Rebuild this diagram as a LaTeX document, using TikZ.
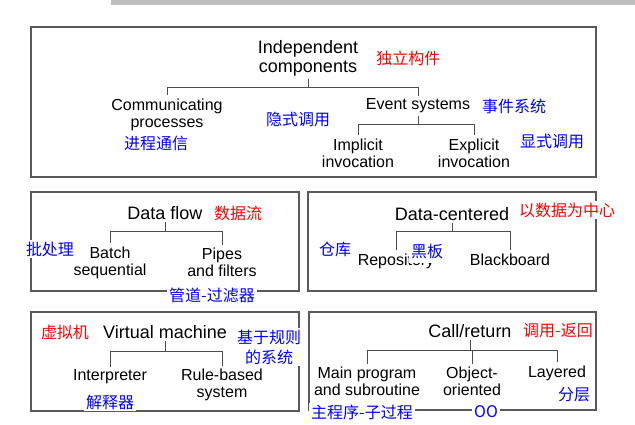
\documentclass[tikz,border=0pt]{standalone}
\usepackage{fontspec}
\setmainfont{Liberation Sans}
\newfontfamily\cjk{Noto Sans CJK SC}
\usetikzlibrary{positioning}
\tikzstyle{panel}     = [draw=black!65, line width=1.2pt]
\tikzstyle{tree}      = [draw=black!70, line width=1pt]
\tikzstyle{headtext}  = [align=center, inner sep=2pt,
                         font=\fontsize{18}{19.5}\selectfont]
\tikzstyle{leaftext}  = [align=center, inner sep=3pt,
                         font=\fontsize{16}{17}\selectfont]
\tikzstyle{redlabel}  = [text=red, fill=white, inner sep=2pt,
                         font=\cjk\fontsize{16}{20}\selectfont]
\tikzstyle{bluelabel} = [text=blue, fill=white, inner sep=2pt, align=center,
                         font=\cjk\fontsize{16}{20}\selectfont]

\begin{document}
\begin{tikzpicture}[x=1pt, y=1pt]

  \useasboundingbox (0,0) rectangle (635,424);
  \fill[black!25] (111,419) rectangle (635,424);

  % the five panels
  \draw[panel] (31,247) rectangle (596,397);
  \draw[panel] (31,133) rectangle (299,232);
  \draw[panel] (308,133) rectangle (596,232);
  \draw[panel] (31,13) rectangle (299,112);
  \draw[panel] (309,14) rectangle (596,112);

  % independent components
  \node[headtext] (indep) at (308,365.5) {Independent\\components};
  \node[redlabel, right=14pt of indep] (indepcn) {独立构件};
  \node[leaftext] (comm) at (167,309.5) {Communicating\\processes};
  \node[bluelabel] (commcn) at (156,281) {进程通信};
  \node[bluelabel] (implcn) at (298,305) {隐式调用};
  \node[leaftext] (event) at (418,318) {Event systems};
  \node[bluelabel] (eventcn) at (514,318) {事件系统};
  \node[leaftext] (impl) at (358,271) {Implicit\\invocation};
  \node[leaftext] (expl) at (474,271) {Explicit\\invocation};
  \node[bluelabel] (explcn) at (552,283) {显式调用};

  \draw[tree] (indep.south) -- ++(0,-9) -| (comm.north);
  \draw[tree] (indep.south) -- ++(0,-9) -| (event.north);
  \draw[tree] (event.south) -- ++(0,-8) -| (impl.north);
  \draw[tree] (event.south) -- ++(0,-8) -| (expl.north);

  % data flow
  \node[headtext] (dflow) at (165,211) {Data flow};
  \node[redlabel] (dflowcn) at (238,211) {数据流};
  \node[leaftext] (batch) at (110,161.5) {Batch\\sequential};
  \node[leaftext] (pipes) at (222,161.5) {Pipes\\and filters};
  \node[bluelabel] (batchcn) at (50,175) {批处理};
  \node[bluelabel] (pipescn) at (212,129) {管道-过滤器};

  \draw[tree] (dflow.south) -- ++(0,-10) -| (batch.north);
  \draw[tree] (dflow.south) -- ++(0,-10) -| (pipes.north);

  % data-centered
  \node[headtext] (dcent) at (452,210) {Data-centered};
  \node[redlabel] (dcentcn) at (567,214) {以数据为中心};
  \node[leaftext, anchor=base] (repo) at (396,159) {Repository};
  \node[leaftext, anchor=base] (bboard) at (510,159) {Blackboard};
  \node[bluelabel] (repocn) at (335,175) {仓库};
  \node[bluelabel, inner ysep=5pt] (bboardcn) at (427,173) {黑板};

  \draw[tree] (dcent.south) -- ++(0,-9) -| (repo.north);
  \draw[tree] (dcent.south) -- ++(0,-9) -| (bboard.north);

  % virtual machine
  \node[headtext] (vm) at (165,92) {Virtual machine};
  \node[redlabel] (vmcn) at (65,92) {虚拟机};
  \node[leaftext] (interp) at (110,47) {Interpreter};
  \node[leaftext] (rule) at (222,39) {Rule-based\\system};
  \node[bluelabel] (interpcn) at (110,22) {解释器};
  \node[bluelabel] (rulecn) at (269,77) {基于规则\\的系统};

  \draw[tree] (vm.south) -- ++(0,-11) -| (interp.north);
  \draw[tree] (vm.south) -- ++(0,-11) -| (rule.north);

  % call/return
  \node[headtext] (call) at (470,93) {Call/return};
  \node[redlabel] (callcn) at (558,93) {调用-返回};
  \node[leaftext] (mainp) at (367,42.5) {Main program\\and subroutine};
  \node[leaftext] (objo) at (472,42.5) {Object-\\oriented};
  \node[leaftext] (layer) at (557,51) {Layered};
  \node[bluelabel] (layercn) at (574,29) {分层};
  \node[bluelabel] (mainpcn) at (362,12) {主程序-子过程};
  \node[bluelabel] (objocn) at (486,12) {OO};

  \draw[tree] (call.south) -- ++(0,-11) -| (mainp.north);
  \draw[tree] (call.south) -- ++(0,-11) -| (objo.north);
  \draw[tree] (call.south) -- ++(0,-11) -| (layer.north);

\end{tikzpicture}
\end{document}
